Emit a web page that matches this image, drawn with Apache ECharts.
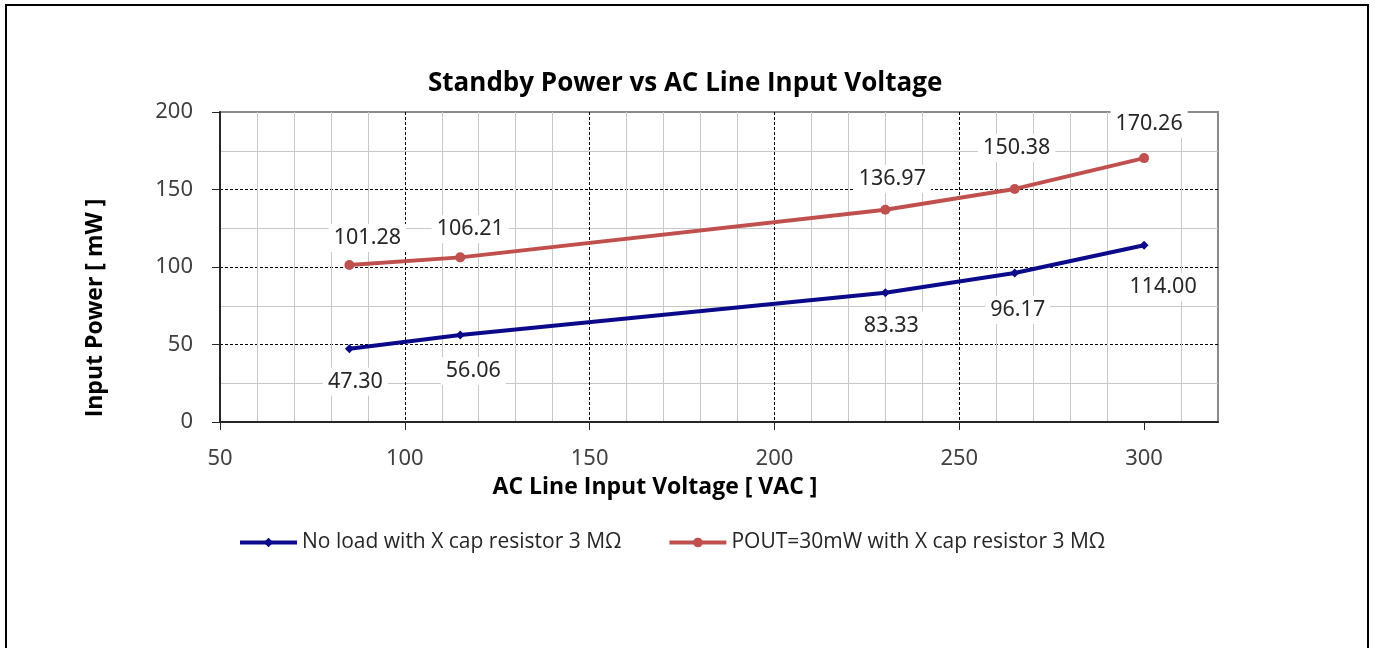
<!DOCTYPE html>
<html><head><meta charset="utf-8">
<script src="https://cdn.jsdelivr.net/npm/echarts@6/dist/echarts.min.js"></script>
<style>
html,body{margin:0;padding:0;background:#fff;}
#c{width:1375px;height:648px;position:absolute;left:0;top:0;}
#frame{position:absolute;left:5px;top:4px;width:1360px;height:700px;border:2px solid #000;pointer-events:none;}
</style></head><body>
<div id="c"></div><div id="frame"></div>
<script>
// ---- data ----
const xValues = [85, 115, 230, 265, 300];
const noLoad = [47.30, 56.06, 83.33, 96.17, 114.00];
const pout30 = [101.28, 106.21, 136.97, 150.38, 170.26];
const xTicks = [50, 100, 150, 200, 250, 300];
const yTicks = [0, 50, 100, 150, 200];
const seriesNames = ['No load with X cap resistor 3 MΩ', 'POUT=30mW with X cap resistor 3 MΩ'];
const chartTitle = 'Standby Power vs AC Line Input Voltage';
const xTitle = 'AC Line Input Voltage [ VAC ]';
const yTitle = 'Input Power [ mW ]';

// ---- label placement (style) ----
const blueLabelOffsets = [[6, 33], [13, 36], [6, 33], [3, 37], [19, 42]];
const redLabelOffsets = [[18, -27], [10, -28], [7, -31], [2, -41], [5, -34]];

const labelFont = { fontFamily: 'Noto Sans', fontSize: 21.5, color: '#262626' };

function buildData(vals, offs) {
  return vals.map((v, i) => ({
    value: [xValues[i], v],
    label: { offset: offs[i] }
  }));
}

const chart = echarts.init(document.getElementById('c'), null, { renderer: 'canvas' });

const majorLine = { show: true, showMinLine: false, showMaxLine: false, lineStyle: { color: '#000', type: [3, 2], width: 1 } };
const minorLine = { show: true, lineStyle: { color: '#c8c8c8', width: 1 } };

chart.setOption({
  animation: false,
  title: {
    text: chartTitle, left: 423, top: 66,
    textStyle: { fontFamily: 'Open Sans', fontWeight: 'bold', fontSize: 26, color: '#000' }
  },
  legend: {
    data: seriesNames, left: 238, top: 532, itemWidth: 57, itemHeight: 12, itemGap: 46, padding: 0,
    lineStyle: { width: 4 },
    textStyle: { fontFamily: 'Open Sans', fontSize: 21, color: '#262626' }
  },
  grid: {
    left: 220, right: 157, top: 112, bottom: 226, show: true,
    borderColor: '#8a8a8a', borderWidth: 2, backgroundColor: 'transparent',
    containLabel: false, outerBoundsMode: 'none'
  },
  xAxis: {
    type: 'value', min: 50, max: 320, interval: 50,
    axisLine: { show: true, onZero: false, lineStyle: { color: '#262626', width: 2 } },
    axisTick: { show: true, length: 8, customValues: xTicks, lineStyle: { color: '#262626', width: 1 } },
    axisLabel: { customValues: xTicks, margin: 26, ...labelFont, fontSize: 22, color: '#404040' },
    splitLine: majorLine,
    minorTick: { show: false, splitNumber: 5 },
    minorSplitLine: minorLine
  },
  yAxis: {
    type: 'value', min: 0, max: 200, interval: 50,
    axisLine: { show: true, onZero: false, lineStyle: { color: '#262626', width: 2 } },
    axisTick: { show: true, length: 8, customValues: yTicks, lineStyle: { color: '#262626', width: 1 } },
    axisLabel: { customValues: yTicks, margin: 27, ...labelFont, fontSize: 22, color: '#404040' },
    splitLine: majorLine,
    minorTick: { show: false, splitNumber: 2 },
    minorSplitLine: minorLine
  },
  graphic: [
    { type: 'text', x: 655, y: 487, style: { text: xTitle, fontFamily: 'Open Sans', fontWeight: 'bold', fontSize: 23, fill: '#000', align: 'center', verticalAlign: 'middle' } },
    { type: 'text', x: 95, y: 308, rotation: Math.PI / 2, style: { text: yTitle, fontFamily: 'Open Sans', fontWeight: 'bold', fontSize: 23, fill: '#000', align: 'center', verticalAlign: 'middle' } }
  ],
  series: [
    {
      name: seriesNames[0], type: 'line', data: buildData(noLoad, blueLabelOffsets),
      symbol: 'diamond', symbolSize: 9, color: '#0a0a8a',
      lineStyle: { width: 4, color: '#0a0a8a' },
      label: { show: true, position: 'inside', ...labelFont, backgroundColor: '#fff', padding: [3, 5],
        formatter: p => p.value[1].toFixed(2) },
      z: 5
    },
    {
      name: seriesNames[1], type: 'line', data: buildData(pout30, redLabelOffsets),
      symbol: 'circle', symbolSize: 10, color: '#c0504d',
      lineStyle: { width: 4, color: '#c0504d' },
      label: { show: true, position: 'inside', ...labelFont, backgroundColor: '#fff', padding: [3, 5],
        formatter: p => p.value[1].toFixed(2) },
      z: 5
    }
  ]
});
</script>
</body></html>
